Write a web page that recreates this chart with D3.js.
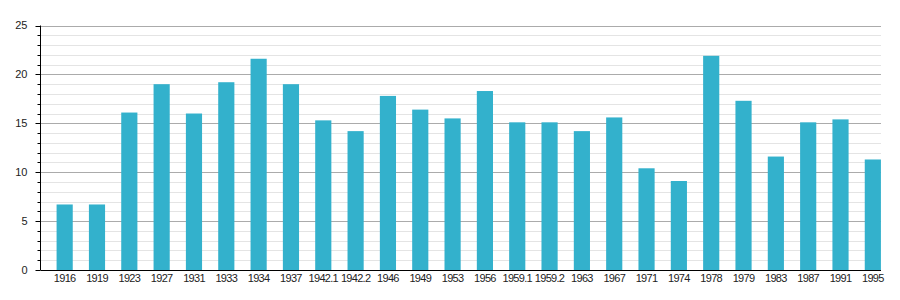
<!DOCTYPE html>
<html>
<head>
<meta charset="utf-8">
<script src="https://cdn.jsdelivr.net/npm/d3@7"></script>
<style>
  body { margin: 0; background: #fff; }
  text { font-family: "Liberation Sans", Arial, sans-serif; }
</style>
</head>
<body>
<script>
// values
var years = ["1916","1919","1923","1927","1931","1933","1934","1937","1942.1","1942.2",
             "1946","1949","1953","1956","1959.1","1959.2","1963","1967","1971","1974",
             "1978","1979","1983","1987","1991","1995"];
var values = [6.7, 6.7, 16.1, 19.0, 16.0, 19.2, 21.6, 19.0, 15.3, 14.2,
              17.8, 16.4, 15.5, 18.3, 15.1, 15.1, 14.2, 15.6, 10.4, 9.1,
              21.9, 17.3, 11.6, 15.1, 15.4, 11.3];
var yTicks = [0, 5, 10, 15, 20, 25];

var svgWidth = 900, svgHeight = 300;
var plotLeft = 40.5, plotRight = 881, plotTop = 25.5, plotBottom = 270;

var svg = d3.select("body").append("svg")
            .attr("width", svgWidth)
            .attr("height", svgHeight);

var x = d3.scaleBand()
          .domain(years)
          .range([48.5, 889])
          .paddingInner(0.5)
          .paddingOuter(0.25);

var y = d3.scaleLinear()
          .domain([0, 25])
          .range([plotBottom, plotTop]);

var minorTicks = d3.range(1, 25).filter(function(d) { return d % 5 != 0; });
function yPix(d) { return Math.round(y(d)) + 0.5; }

// minor gridlines, every unit
svg.append("g")
   .selectAll("line")
   .data(minorTicks)
   .enter()
   .append("line")
   .attr("x1", plotLeft).attr("x2", plotRight)
   .attr("y1", yPix).attr("y2", yPix)
   .style("stroke", "#e4e4e4");

// major gridlines
svg.append("g")
   .selectAll("line")
   .data(yTicks.slice(1))
   .enter()
   .append("line")
   .attr("x1", plotLeft).attr("x2", plotRight)
   .attr("y1", yPix).attr("y2", yPix)
   .style("stroke", "#ababab");

// bars
svg.append("g")
   .selectAll("rect")
   .data(values)
   .enter()
   .append("rect")
   .attr("x", function(d, i) { return x(years[i]); })
   .attr("width", x.bandwidth())
   .attr("y", function(d) { return y(d); })
   .attr("height", function(d) { return plotBottom - y(d); })
   .attr("fill", "#33b1cc");

// y axis with minor ticks
var yAxis = svg.append("g").attr("transform", "translate(" + plotLeft + ",0)");
yAxis.append("line")
     .attr("x1", 0).attr("x2", 0)
     .attr("y1", y(25)).attr("y2", plotBottom)
     .style("stroke", "#000");
yAxis.selectAll("line.minor")
     .data(minorTicks)
     .enter()
     .append("line")
     .attr("class", "minor")
     .attr("x1", -3).attr("x2", 0)
     .attr("y1", yPix).attr("y2", yPix)
     .style("stroke", "#000");
yAxis.selectAll("line.major")
     .data(yTicks)
     .enter()
     .append("line")
     .attr("class", "major")
     .attr("x1", -5).attr("x2", 0)
     .attr("y1", yPix).attr("y2", yPix)
     .style("stroke", "#000");
yAxis.selectAll("text")
     .data(yTicks)
     .enter()
     .append("text")
     .attr("x", -13)
     .attr("y", function(d) { return y(d); })
     .attr("dy", "0.35em")
     .attr("text-anchor", "end")
     .style("font-size", "11px")
     .style("fill", "#222")
     .text(function(d) { return d; });

// x axis
svg.append("line")
   .attr("x1", plotLeft).attr("x2", plotRight)
   .attr("y1", plotBottom + 0.5).attr("y2", plotBottom + 0.5)
   .style("stroke", "#000");
svg.append("g")
   .selectAll("text")
   .data(years)
   .enter()
   .append("text")
   .attr("x", function(d) { return x(d) + x.bandwidth() / 2; })
   .attr("y", 282)
   .attr("text-anchor", "middle")
   .style("font-size", "11px")
   .style("letter-spacing", "-0.7px")
   .style("fill", "#222")
   .text(function(d) { return d; });
</script>
</body>
</html>
